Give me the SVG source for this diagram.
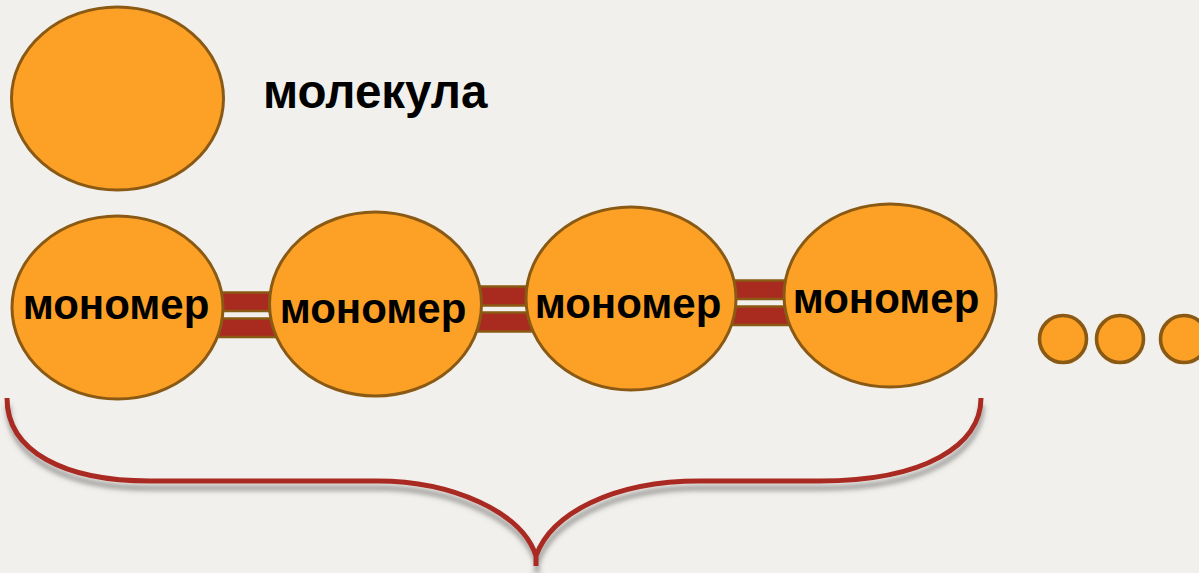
<svg xmlns="http://www.w3.org/2000/svg" width="1199" height="573" viewBox="0 0 1199 573">
  <defs>
    <style>
      .ball { fill: #FCA126; stroke: #8A5A14; stroke-width: 3; }
      .dot { fill: #FCA126; stroke: #8A5A14; stroke-width: 3.6; }
      .bar { fill: #A92B20; stroke: #8A5A14; stroke-width: 2.5; }
      .label { font-family: "Liberation Sans", Arial, sans-serif; font-weight: bold; fill: #000; }
      .mono { font-size: 42px; text-anchor: middle; }
      .brace { fill: none; stroke: #A92B20; stroke-width: 5; stroke-linecap: butt; stroke-linejoin: round; }
    </style>
    <filter id="braceShadow" x="-5%" y="-20%" width="110%" height="150%">
      <feGaussianBlur in="SourceAlpha" stdDeviation="2.5"/>
      <feOffset dx="1" dy="7" result="blur"/>
      <feFlood flood-color="#555" flood-opacity="0.55"/>
      <feComposite in2="blur" operator="in" result="shadow"/>
      <feMerge>
        <feMergeNode in="shadow"/>
        <feMergeNode in="SourceGraphic"/>
      </feMerge>
    </filter>
  </defs>

  <!-- paper background -->
  <rect x="0" y="0" width="1199" height="573" fill="#F1F0EC"/>

  <!-- legend: a single molecule -->
  <g id="molecule">
    <ellipse class="ball" cx="117.5" cy="98.5" rx="106" ry="91.5"/>
    <text class="label" x="263" y="108" font-size="47.5">молекула</text>
  </g>

  <!-- double bonds between monomers (drawn under the balls) -->
  <g id="connectors">
    <g id="bond-1-2">
      <rect class="bar" x="215" y="292.5" width="62" height="18.5"/>
      <rect class="bar" x="215" y="318.5" width="62" height="18.5"/>
    </g>
    <g id="bond-2-3">
      <rect class="bar" x="474" y="286.5" width="58" height="19"/>
      <rect class="bar" x="474" y="312.5" width="58" height="19"/>
    </g>
    <g id="bond-3-4">
      <rect class="bar" x="730" y="280.5" width="60" height="18.5"/>
      <rect class="bar" x="730" y="306.5" width="60" height="18.5"/>
    </g>
  </g>

  <g id="monomer-1">
    <ellipse class="ball" cx="117.5" cy="307.5" rx="105.5" ry="91.5"/>
    <text class="label mono" x="116" y="319">мономер</text>
  </g>
  <g id="monomer-2">
    <ellipse class="ball" cx="375.5" cy="304" rx="106" ry="92"/>
    <text class="label mono" x="373" y="323">мономер</text>
  </g>
  <g id="monomer-3">
    <ellipse class="ball" cx="631" cy="298.5" rx="105" ry="91.5"/>
    <text class="label mono" x="628" y="318">мономер</text>
  </g>
  <g id="monomer-4">
    <ellipse class="ball" cx="890" cy="295.5" rx="106" ry="91.5"/>
    <text class="label mono" x="886" y="313">мономер</text>
  </g>

  <!-- continuation dots -->
  <g id="ellipsis">
    <circle class="dot" cx="1063" cy="339" r="23.5"/>
    <circle class="dot" cx="1120" cy="339" r="23.5"/>
    <circle class="dot" cx="1184" cy="339" r="23.5"/>
  </g>

  <!-- curly brace under the chain -->
  <g id="brace" filter="url(#braceShadow)">
    <path class="brace" d="M 7,398 C 7,452 65,481 150,481 L 377,481 C 452,481 522,512 536,556 L 536,566 M 536,556 C 551,514 612,481 700,481 L 820,481 C 925,481 981,445 981,398"/>
  </g>
</svg>
